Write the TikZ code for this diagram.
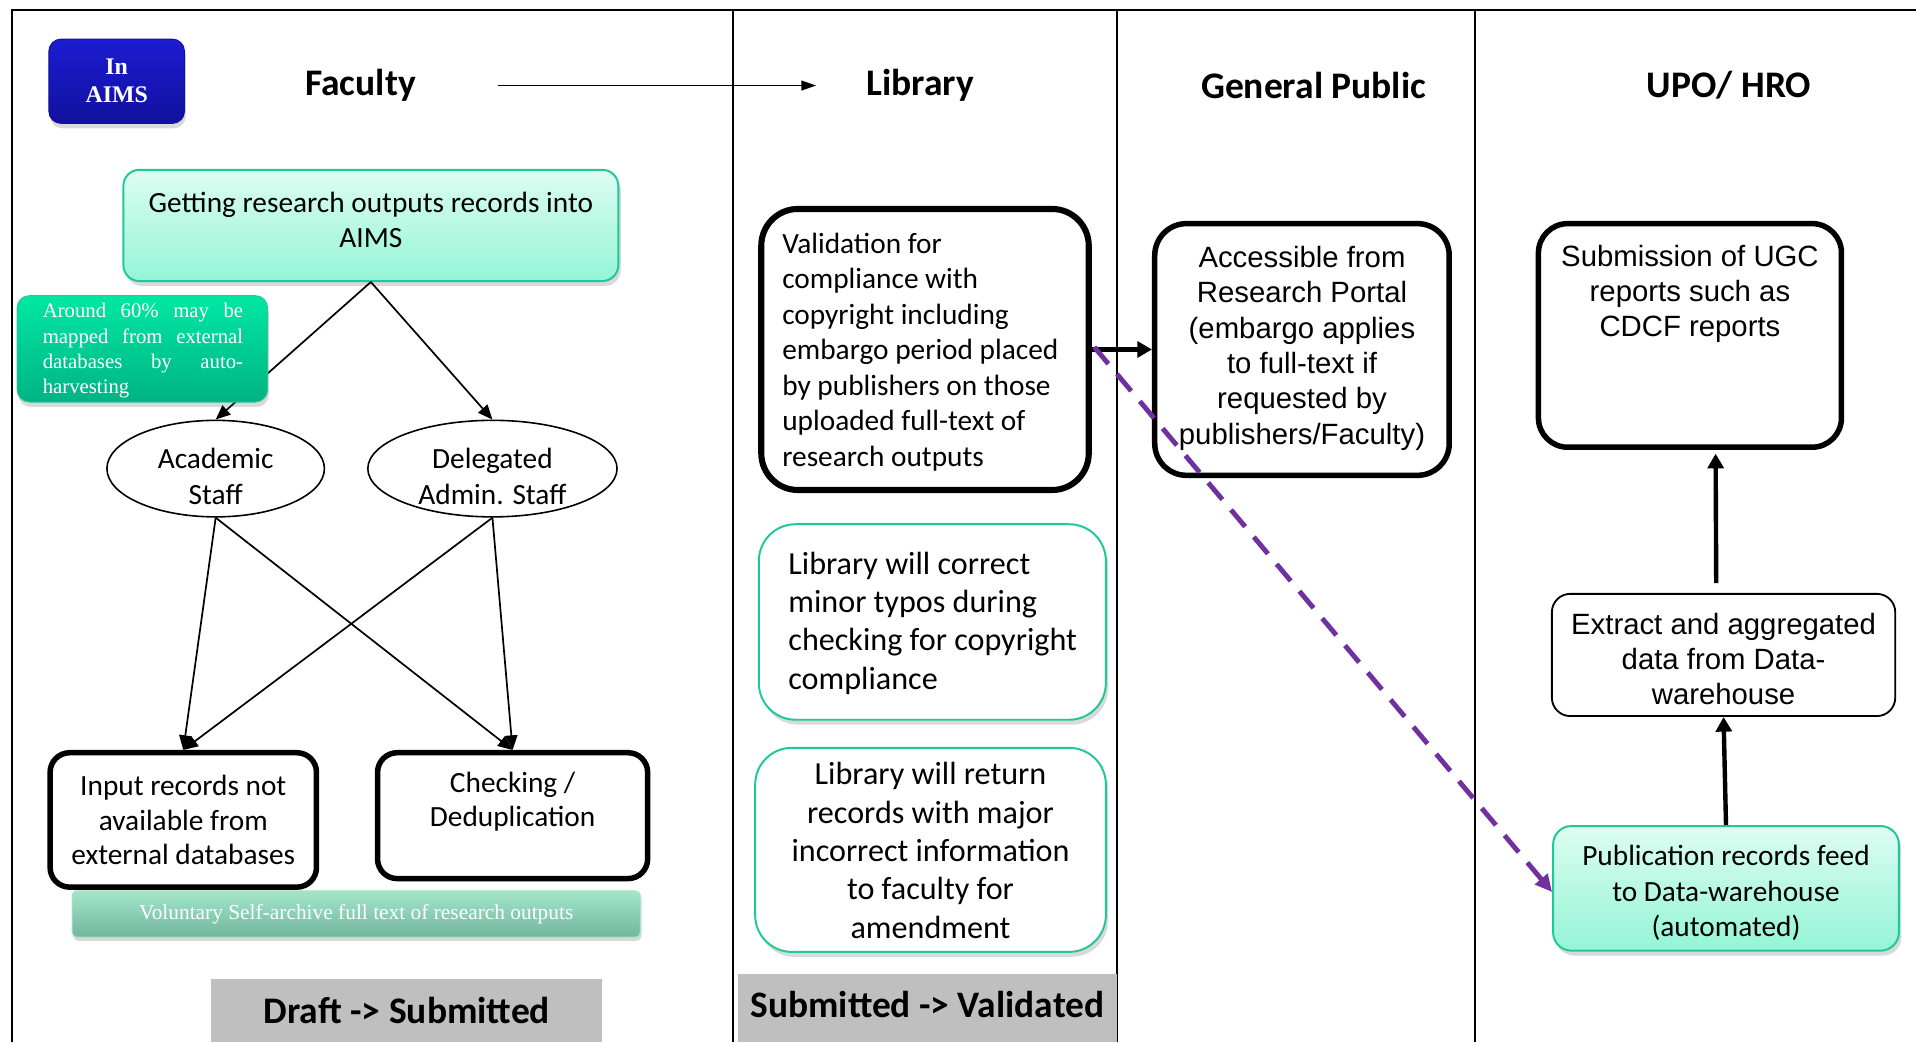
\documentclass[tikz,border=0pt]{standalone}
\usepackage{fontspec}
\setmainfont{Carlito}
\newfontfamily\arialf{Liberation Sans}
\newfontfamily\timesf{Liberation Serif}
\usetikzlibrary{arrows.meta,shapes.geometric,shadows}
\definecolor{mintT}{HTML}{DDFDF1}
\definecolor{mintB}{HTML}{94F5D6}
\definecolor{mintD}{HTML}{1FC79A}
\definecolor{noteT}{HTML}{00E8A2}
\definecolor{noteB}{HTML}{00B383}
\definecolor{blueT}{HTML}{1C1CD2}
\definecolor{blueB}{HTML}{11119E}
\definecolor{volT}{HTML}{A2E5C9}
\definecolor{volB}{HTML}{72B69E}
\definecolor{grayb}{HTML}{BFBFBF}
\definecolor{purp}{HTML}{7030A0}
\newcommand{\fsz}[2]{\fontsize{#1}{#2}\selectfont}
\begin{document}
\begin{tikzpicture}[x=1pt,y=-1pt,
  txt/.style={inner sep=0pt, align=center},
  hdr/.style={inner sep=0pt, font=\fsz{30.7}{36}\bfseries},
  thickbox/.style={draw=black, line width=4.5pt, fill=white, inner sep=0pt},
  mintbox/.style={draw=mintD, line width=1.6pt, top color=mintT, bottom color=mintB, rounded corners=13pt, inner sep=0pt,
     drop shadow={shadow xshift=2pt, shadow yshift=-4pt, opacity=0.25, fill=black!60}},
  whitemint/.style={draw=mintD, line width=1.6pt, fill=white, rounded corners=30pt, inner sep=0pt,
     drop shadow={shadow xshift=2pt, shadow yshift=-4pt, opacity=0.25, fill=black!60}},
  ell/.style={draw=black, line width=1.3pt, ellipse, fill=white, inner sep=0pt},
  thin/.style={line width=1.4pt, -{Triangle[length=12pt,width=10pt]}},
  thick/.style={line width=3.6pt, -{Triangle[length=12pt,width=13pt]}},
  graybox/.style={fill=grayb, inner sep=0pt, font=\fsz{30.7}{36}\bfseries}
]
\useasboundingbox (0,0) rectangle (1568,853);
% frame and lane dividers
\draw[line width=1.5pt] (10,853) -- (10,8) -- (1568,8);
\draw[line width=1.3pt] (600,8) -- (600,853);
\draw[line width=1.3pt] (914,8) -- (914,853);
\draw[line width=1.3pt] (1207,8) -- (1207,853);

% headers
\node[hdr] (fac) at (295,70) {Faculty};
\node[hdr] (lib) at (753,70) {Library};
\node[hdr] (gen) at (1075,70) {General Public};
\node[hdr] (upo) at (1415,70) {UPO/ HRO};
\draw[line width=1.3pt, -{Triangle[length=12pt,width=8pt]}, shorten <=67pt, shorten >=41pt] (fac.east) -- (lib.west);

% In AIMS
\node[inner sep=0pt, minimum width=111pt, minimum height=69pt, rounded corners=10pt,
      top color=blueT, bottom color=blueB, draw=blueB, line width=0.8pt,
      drop shadow={shadow xshift=1pt, shadow yshift=-4pt, opacity=0.25, fill=black!60},
      text=white, align=center, font=\timesf\bfseries\fsz{19.5}{23}] (aims) at (95.5,66.5) {In\\AIMS};

% Faculty lane
\node[mintbox, minimum width=405pt, minimum height=91pt] (get) at (303.5,184.5) {};
\node[txt, font=\fsz{24}{29}] (gett) at (303.5,180) {Getting research outputs records into\\AIMS};

\node[ell, minimum width=178pt, minimum height=79pt] (acad) at (176.5,383.5) {};
\node[txt, font=\fsz{24}{29}] (acadt) at (176.5,390) {Academic\\Staff};
\node[ell, minimum width=204pt, minimum height=79pt] (dele) at (403,383.5) {};
\node[txt, font=\fsz{24}{29}] (delet) at (403,390) {Delegated\\Admin. Staff};

\draw[thin] (get.south) -- (acad.north);
\draw[thin] (get.south) -- (dele.north);

\node[inner sep=0pt, minimum width=205pt, minimum height=87pt, rounded corners=10pt,
      top color=noteT, bottom color=noteB, draw=noteB!80!white, line width=0.8pt,
      drop shadow={shadow xshift=1pt, shadow yshift=-4pt, opacity=0.25, fill=black!60}] (note) at (116.5,285.5) {};
\node[inner sep=0pt, text=white, align=left, font=\timesf\fsz{17}{20.6}] (notet) at (117,287)
 {\hbox to 164pt{Around\hfill 60\%\hfill may\hfill be}\\
  \hbox to 164pt{mapped\hfill from\hfill external}\\
  \hbox to 164pt{databases\hfill by\hfill auto-}\\
  \hbox to 164pt{harvesting\hfill}};

\node[thickbox, rounded corners=16pt, minimum width=218pt, minimum height=110pt] (inp) at (150,671) {};
\node[txt, font=\fsz{24}{28.5}] (inpt) at (150,671) {Input records not\\available from\\external databases};
\node[thickbox, rounded corners=16pt, minimum width=221pt, minimum height=103pt] (chk) at (419.5,667.5) {};
\node[txt, font=\fsz{24}{28.5}] (chkt) at (419.5,656) {Checking /\\Deduplication};

\draw[thin] (acad.south) -- (inp.north);
\draw[thin] (acad.south) -- (chk.north);
\draw[thin] (dele.south) -- (inp.north);
\draw[thin] (dele.south) -- (chk.north);

\node[inner sep=0pt, minimum width=465pt, minimum height=38pt, rounded corners=4pt,
      top color=volT, bottom color=volB, draw=volT, line width=0.8pt,
      drop shadow={shadow xshift=1pt, shadow yshift=-3pt, opacity=0.25, fill=black!60},
      text=white, font=\timesf\fsz{17.5}{20}] (vol) at (291.5,748) {Voluntary Self-archive full text of research outputs};

\node[graybox, minimum width=320pt, minimum height=52pt] (draft) at (333,827) {Draft -> Submitted};

% Library lane
\node[thickbox, line width=5pt, rounded corners=30pt, minimum width=268pt, minimum height=230pt] (val) at (757,286) {};
\node[inner sep=0pt, align=left, anchor=west, font=\fsz{24}{29}] (valt) at (640,288)
 {Validation for\\compliance with\\copyright including\\embargo period placed\\by publishers on those\\uploaded full-text of\\research outputs};

\node[whitemint, minimum width=284pt, minimum height=160pt] (cor) at (763,509) {};
\node[inner sep=0pt, align=left, anchor=west, font=\fsz{26.3}{31.4}] (cort) at (645,510)
 {Library will correct\\minor typos during\\checking for copyright\\compliance};

\node[whitemint, minimum width=287pt, minimum height=167pt] (ret) at (761.5,695.5) {};
\node[txt, font=\fsz{26.3}{31.4}] (rett) at (761.5,696)
 {Library will return\\records with major\\incorrect information\\to faculty for\\amendment};

\node[graybox, minimum width=310pt, minimum height=56pt] (subval) at (759,825) {};
\node[inner sep=0pt, font=\fsz{30.6}{36}\bfseries] (subvalt) at (759,822) {Submitted -> Validated};

% General Public lane
\node[thickbox, rounded corners=26pt, minimum width=241pt, minimum height=206pt] (acc) at (1065.5,286) {};
\node[txt, font=\arialf\fsz{24}{29}] (acct) at (1065.5,285)
 {Accessible from\\Research Portal\\(embargo applies\\to full-text if\\requested by\\publishers/Faculty)};

% UPO lane
\node[thickbox, rounded corners=24pt, minimum width=248pt, minimum height=183pt] (sub) at (1383,274.5) {};
\node[txt, font=\arialf\fsz{24}{29}] (subt) at (1383,240.5) {Submission of UGC\\reports such as\\CDCF reports};

\node[draw=black, line width=1.5pt, rounded corners=15pt, fill=white, inner sep=0pt, minimum width=281pt, minimum height=100pt] (ext) at (1410.5,536) {};
\node[txt, font=\arialf\fsz{24}{28.5}] (extt) at (1410.5,539.5) {Extract and aggregated\\data from Data-\\warehouse};

\node[mintbox, rounded corners=15pt, minimum width=283pt, minimum height=102pt] (pubr) at (1412.5,727) {};
\node[txt, font=\fsz{24}{29}] (pubrt) at (1412.5,731) {Publication records feed\\to Data-warehouse\\(automated)};

% connectors
\draw[thick] (val.east) -- (acc.west);
\draw[purp, line width=4pt, dash pattern=on 18pt off 11pt, -{Triangle[length=14pt,width=13pt]}] ([xshift=2pt,yshift=2pt]val.east) -- ([yshift=-3pt]pubr.west);
\draw[thick] (pubr.north) -- (ext.south);
\draw[thick] ([xshift=-6pt,yshift=8pt]ext.north) -- ([xshift=21pt,yshift=-3pt]sub.south);
\end{tikzpicture}
\end{document}
